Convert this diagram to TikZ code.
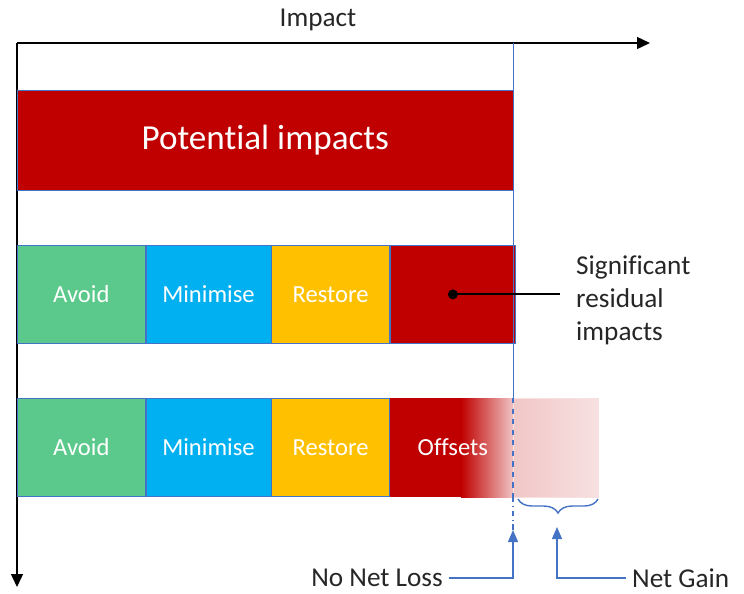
\documentclass[tikz,border=0pt]{standalone}
\usepackage{fontspec}
\setmainfont{Carlito}[Ligatures=NoCommon]
\usetikzlibrary{positioning,arrows.meta,decorations.pathreplacing}

\definecolor{darkred}{HTML}{C00000}
\definecolor{avoidgreen}{HTML}{5BC98B}
\definecolor{minblue}{HTML}{00B0F0}
\definecolor{restorange}{HTML}{FFC000}
\definecolor{edgeblue}{HTML}{4472C4}

\tikzset{
  cell/.style={draw=edgeblue, thin, minimum height=1.96cm, inner sep=0pt,
    text=white, font=\fontsize{14}{16}\selectfont},
  axis/.style={black, thick, -{Triangle[length=2.6mm,width=2.4mm]}},
  pointer/.style={edgeblue, thick, -{Triangle[length=2.4mm,width=2mm]}},
  label/.style={font=\fontsize{15.5}{18.7}\selectfont, text=black!85}
}

\begin{document}
\begin{tikzpicture}[x=0.02cm, y=-0.02cm]
            \useasboundingbox (0,0) rectangle (744,593);

            % Achsen
            \coordinate (origin) at (17,43);
            \coordinate (xend) at (650,43);
            \coordinate (yend) at (17,587);
            \draw[axis] (origin) -- (xend);
            \draw[axis] (origin) -- (yend);
            \node[label] (impact) at (318,20) {Impact};

            % Potential impacts
            \node[cell, fill=darkred, minimum width=9.92cm, minimum height=2cm,
                  anchor=north west, font=\fontsize{20}{22}\selectfont] (potential) at (17,90) {Potential impacts};

            % Reihe 2
            \node[cell, fill=avoidgreen, minimum width=2.56cm, anchor=north west] (avoid1) at (17,245) {Avoid};
            \node[cell, fill=minblue, minimum width=2.5cm, right=0pt of avoid1] (minimise1) {Minimise};
            \node[cell, fill=restorange, minimum width=2.36cm, right=0pt of minimise1] (restore1) {Restore};
            \node[cell, fill=darkred, minimum width=2.5cm, right=0pt of restore1] (residual) {};

            % Reihe 3, Offsets mit Verlauf
            \fill[darkred] (388,398) rectangle (462,497);
            \shade[left color=darkred, right color=darkred!22] (461,398) rectangle (514,497);
            \shade[left color=darkred!22, right color=darkred!12, draw=darkred!12] (513,398) rectangle (598,497);
            \node[cell, fill=avoidgreen, minimum width=2.56cm, anchor=north west] (avoid2) at (17,398) {Avoid};
            \node[cell, fill=minblue, minimum width=2.5cm, right=0pt of avoid2] (minimise2) {Minimise};
            \node[cell, fill=restorange, minimum width=2.36cm, right=0pt of minimise2] (restore2) {Restore};
            \node[cell, draw=none, minimum width=2.5cm, right=0pt of restore2] (offsets) {Offsets};

            % Blaue Linie
            \coordinate (nnltop) at (513,43);
            \coordinate (nnlmid) at (513,398);
            \coordinate (nnlbot) at (513,497);
            \coordinate (nnltip) at (513,530);
            \draw[edgeblue, thin] (nnltop) -- (nnlmid);
            \draw[edgeblue, thick, dashed] (nnlmid) -- (nnlbot);
            \draw[edgeblue, thick, dash dot] (nnlbot) -- (nnltip);

            % Significant residual impacts
            \fill[black] (residual.center) circle (5);
            \node[label, align=left, anchor=west] (sigres) at (570,300) {Significant\\residual\\impacts};
            \draw[black, very thick] (residual.center) -- ([xshift=-0.2cm]residual.center -| sigres.west);

            % No Net Loss
            \node[label, anchor=east] (nnl) at (449,578) {No Net Loss};
            \draw[pointer] (nnl.east) -| (nnltip);

            % Net Gain
            \coordinate (gainleft) at (518,499);
            \coordinate (gainright) at (598,499);
            \draw[edgeblue, thick, decorate, decoration={brace, mirror, amplitude=8pt}] (gainleft) -- (gainright);
            \coordinate (gaintip) at (557,527);
            \node[label, anchor=west] (gain) at (626,578) {Net Gain};
            \draw[pointer] (gain.west) -| (gaintip);
\end{tikzpicture}
\end{document}
